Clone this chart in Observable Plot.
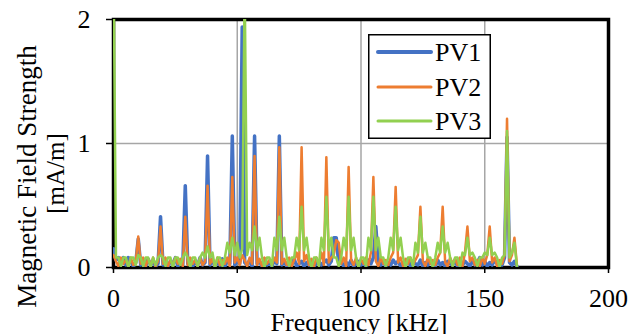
<!DOCTYPE html>
<html><head><meta charset="utf-8">
<script src="https://cdn.jsdelivr.net/npm/d3@7"></script>
<script src="https://cdn.jsdelivr.net/npm/@observablehq/plot@0.6"></script>
<style>
body{margin:0;background:#fff;}
#wrap{position:relative;width:640px;height:334px;overflow:hidden;}
#legend{position:absolute;left:368px;top:34px;}
</style></head><body><div id="wrap"></div><script>
// Frequency bins (kHz), 1 kHz spacing, 0..163
const freqKHz = d3.range(0, 164);
const seriesNames = ["PV1", "PV2", "PV3"];
const seriesColors = ["#4472C4", "#ED7D31", "#92D050"];
const xTicks = [0, 50, 100, 150, 200];
const yTicks = [0, 1, 2];
const xLabel = "Frequency [kHz]";
const yLabel1 = "Magnetic Field Strength";
const yLabel2 = "[mA/m]";
const serif = "Liberation Serif";

// Magnetic field strength [mA/m]
const pv1 = [
  0.15,0.06,0.08,0.03,0.08,0.02,0.08,0.05,0.01,0.04,
  0.23,0.02,0.06,0.01,0.07,0.02,0.05,0.01,0.03,0.41,
  0.02,0.06,0.01,0.05,0.03,0.08,0.01,0.04,0.02,0.66,
  0.03,0.07,0.01,0.05,0.02,0.08,0.02,0.04,0.90,0.02,
  0.06,0.01,0.04,0.02,0.07,0.01,0.05,0.03,1.06,0.02,
  0.05,0.03,1.94,0.04,0.02,0.06,0.01,1.06,0.03,0.05,
  0.01,0.07,0.02,0.04,0.01,0.06,0.03,1.06,0.02,0.05,
  0.01,0.04,0.02,0.07,0.01,0.03,0.05,0.01,0.04,0.02,
  0.06,0.01,0.03,0.05,0.02,0.04,0.06,0.02,0.05,0.24,
  0.24,0.03,0.05,0.01,0.04,0.02,0.06,0.01,0.03,0.05,
  0.02,0.04,0.01,0.06,0.03,0.08,0.33,0.04,0.02,0.05,
  0.01,0.04,0.02,0.06,0.03,0.05,0.01,0.04,0.02,0.07,
  0.01,0.05,0.03,0.02,0.06,0.01,0.04,0.02,0.05,0.03,
  0.01,0.06,0.02,0.04,0.01,0.05,0.03,0.02,0.06,0.01,
  0.04,0.02,0.05,0.03,0.01,0.06,0.02,0.04,0.08,0.02,
  0.05,0.01,0.04,0.02,0.06,0.03,0.05,0.02,0.08,1.05,
  0.04,0.02,0.05,0.01
];
const pv2 = [
  0.10,0.05,0.01,0.08,0.03,0.06,0.01,0.08,0.02,0.05,
  0.25,0.03,0.08,0.01,0.07,0.02,0.08,0.01,0.05,0.33,
  0.03,0.08,0.01,0.06,0.02,0.08,0.03,0.07,0.01,0.41,
  0.02,0.08,0.03,0.06,0.01,0.08,0.02,0.05,0.66,0.03,
  0.07,0.01,0.08,0.02,0.06,0.03,0.08,0.01,0.73,0.04,
  0.08,0.02,0.10,0.06,0.01,0.08,0.03,0.90,0.02,0.07,
  0.01,0.08,0.03,0.06,0.02,0.08,0.04,0.97,0.03,0.07,
  0.02,0.08,0.01,0.06,0.12,0.03,0.97,0.05,0.10,0.02,
  0.07,0.01,0.08,0.03,0.12,0.02,0.89,0.04,0.08,0.10,
  0.22,0.20,0.03,0.08,0.01,0.81,0.06,0.02,0.08,0.01,
  0.07,0.03,0.08,0.02,0.12,0.73,0.05,0.01,0.08,0.03,
  0.06,0.02,0.08,0.12,0.65,0.04,0.08,0.01,0.07,0.03,
  0.08,0.02,0.06,0.10,0.49,0.05,0.01,0.08,0.03,0.06,
  0.02,0.08,0.12,0.49,0.04,0.01,0.08,0.03,0.07,0.02,
  0.08,0.01,0.12,0.33,0.05,0.08,0.02,0.06,0.01,0.08,
  0.03,0.10,0.33,0.04,0.08,0.01,0.06,0.03,0.10,1.20,
  0.05,0.10,0.24,0.02
];
const pv3 = [
  2.50,0.08,0.08,0.01,0.08,0.08,0.00,0.08,0.08,0.02,
  0.10,0.08,0.01,0.08,0.08,0.00,0.08,0.02,0.08,0.10,
  0.08,0.01,0.08,0.08,0.00,0.08,0.08,0.02,0.08,0.12,
  0.08,0.00,0.08,0.08,0.01,0.08,0.12,0.08,0.17,0.08,
  0.12,0.00,0.08,0.08,0.01,0.08,0.20,0.12,0.24,0.10,
  0.20,0.08,0.15,2.30,0.10,0.20,0.14,0.33,0.14,0.24,
  0.08,0.00,0.08,0.08,0.01,0.24,0.14,0.41,0.14,0.24,
  0.08,0.01,0.08,0.08,0.24,0.14,0.49,0.14,0.24,0.08,
  0.00,0.08,0.08,0.01,0.24,0.14,0.57,0.14,0.24,0.08,
  0.08,0.01,0.08,0.24,0.14,0.57,0.14,0.24,0.08,0.00,
  0.08,0.08,0.01,0.24,0.14,0.57,0.14,0.24,0.08,0.08,
  0.01,0.08,0.24,0.14,0.49,0.14,0.24,0.08,0.00,0.08,
  0.08,0.01,0.20,0.12,0.41,0.12,0.20,0.08,0.08,0.00,
  0.08,0.20,0.12,0.33,0.12,0.20,0.08,0.01,0.08,0.08,
  0.00,0.12,0.10,0.24,0.10,0.12,0.08,0.01,0.08,0.08,
  0.12,0.10,0.24,0.10,0.12,0.08,0.00,0.08,0.10,1.10,
  0.08,0.12,0.20,0.01
];

const values = [pv1, pv2, pv3];
const widths = [3.5, 2.5, 2.5];
const lineMarks = values.map((vals, s) =>
  Plot.line(freqKHz.map((f, i) => ({f, v: vals[i]})), {
    x: "f", y: "v", stroke: seriesColors[s], strokeWidth: widths[s],
    strokeLinejoin: "round", clip: true
  })
);

const chart = Plot.plot({
  width: 640, height: 334,
  marginLeft: 113, marginRight: 32, marginTop: 19, marginBottom: 67,
  x: {domain: [0, 200]},
  y: {domain: [0, 2]},
  style: {fontFamily: serif, fontSize: "26px", color: "black", background: "white", overflow: "visible"},
  marks: [
    Plot.gridX(xTicks.slice(1, -1), {stroke: "#a6a6a6", strokeOpacity: 1, strokeWidth: 1.5}),
    Plot.gridY(yTicks.slice(1, -1), {stroke: "#a6a6a6", strokeOpacity: 1, strokeWidth: 1.5}),
    Plot.frame({stroke: "black", strokeWidth: 3.5}),
    Plot.axisX(xTicks, {tickSize: 6, tickPadding: 15, fontSize: 26, fontFamily: serif, label: null, stroke: "black", strokeWidth: 1.5, tickFormat: d => String(d)}),
    Plot.axisY(yTicks, {tickSize: 7, tickPadding: 16, fontSize: 26, fontFamily: serif, label: null, stroke: "black", strokeWidth: 1.5, tickFormat: d => String(d)}),
    ...lineMarks,
    Plot.text([xLabel], {frameAnchor: "bottom", lineAnchor: "bottom", dx: -2, dy: 63, fontSize: 26, fontFamily: serif, fill: "black"}),
    Plot.text([yLabel1], {frameAnchor: "left", rotate: -90, textAnchor: "middle", lineAnchor: "bottom", dx: -78, dy: 33, fontSize: 27, fontFamily: serif, fill: "black"}),
    Plot.text([yLabel2], {frameAnchor: "left", rotate: -90, textAnchor: "middle", lineAnchor: "bottom", dx: -49.5, dy: 30, fontSize: 25, fontFamily: serif, fill: "black"})
  ]
});
const wrap = document.getElementById("wrap");
wrap.appendChild(chart);

// Legend box
const lg = d3.select(wrap).append("svg").attr("id", "legend").attr("width", 123).attr("height", 105);
lg.append("rect").attr("x", 0.75).attr("y", 0.75).attr("width", 121.5).attr("height", 103.5)
  .attr("fill", "white").attr("stroke", "black").attr("stroke-width", 1.5);
const rowY = [18, 53, 87];
seriesNames.forEach((name, i) => {
  lg.append("line").attr("x1", 10).attr("x2", 63).attr("y1", rowY[i]).attr("y2", rowY[i])
    .attr("stroke", seriesColors[i]).attr("stroke-width", widths[i] + 0.5).attr("stroke-linecap", "round");
  lg.append("text").attr("x", 67).attr("y", rowY[i] + 8.5).text(name)
    .attr("font-family", serif).attr("font-size", 26).attr("fill", "black");
});
</script></body></html>
